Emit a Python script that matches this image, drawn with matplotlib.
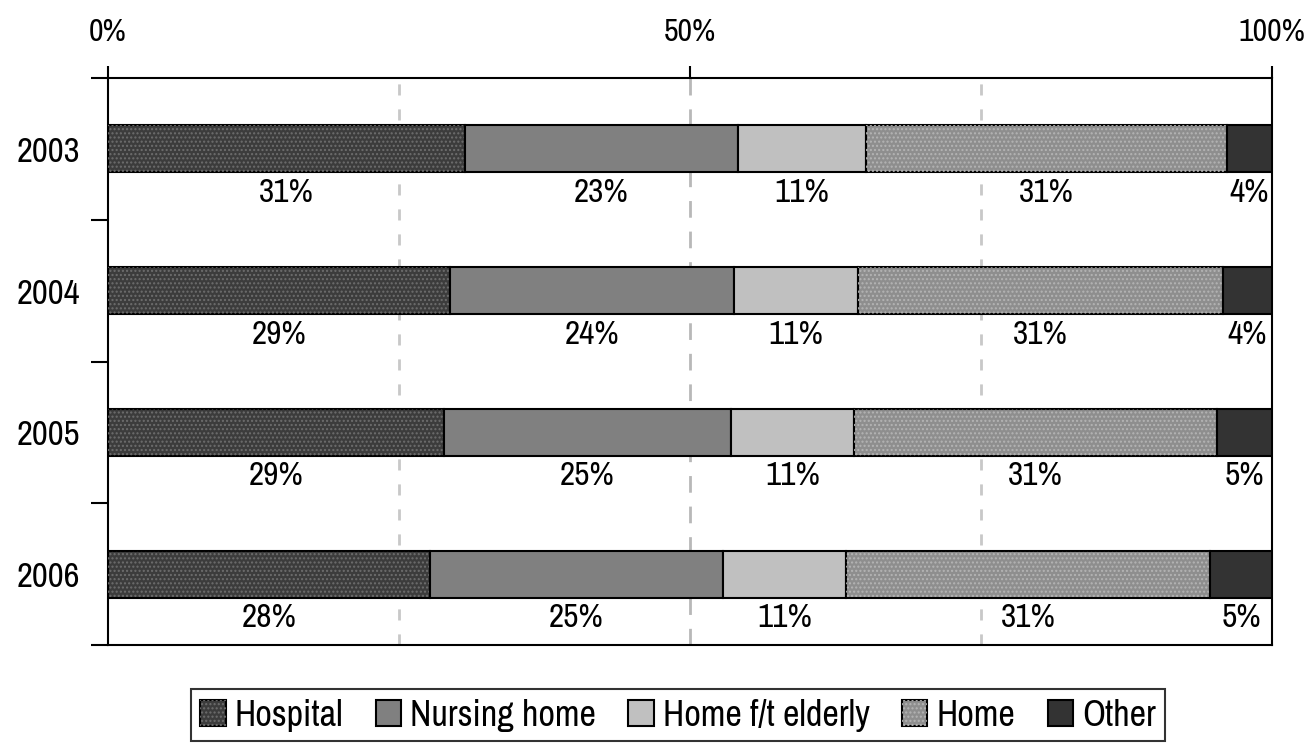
import matplotlib.pyplot as plt
from matplotlib.patches import Patch
import numpy as np

years = ['2003', '2004', '2005', '2006']
categories = ['Hospital', 'Nursing home', 'Home f/t elderly', 'Home', 'Other']
hospital = [30.7, 29.4, 28.9, 27.7]
nursing_home = [23.4, 24.4, 24.6, 25.1]
home_elderly = [11.0, 10.6, 10.6, 10.6]
home = [31.0, 31.4, 31.2, 31.3]
other = [3.9, 4.2, 4.7, 5.3]
series = [hospital, nursing_home, home_elderly, home, other]

fills = ['#3c3c3c', '#808080', '#c0c0c0', '#8e8e8e', '#333333']
dots = ['#6e6e6e', None, None, '#b4b4b4', None]

plt.rcParams['font.family'] = ['Archivo Narrow', 'Liberation Sans', 'DejaVu Sans']
plt.rcParams['hatch.linewidth'] = 1.0

fig = plt.figure(figsize=(13.1, 7.55), dpi=100)
ax = fig.add_axes([108/1310, 1 - 645/755, 1164/1310, 567/755])

y = np.arange(len(years))
h = 0.33
left = np.zeros(len(years))
for vals, fc, dc in zip(series, fills, dots):
    vals = np.array(vals) / 100
    ax.barh(y, vals, left=left, height=h, color=fc, edgecolor='black', linewidth=1.5, zorder=3)
    if dc:
        ax.barh(y, vals, left=left, height=h, fill=False, edgecolor=dc, hatch='....', linewidth=0, zorder=3)
    for yi, l, v in zip(y, left, vals):
        ax.text(l + v / 2, yi + 0.31, f'{round(v * 100):.0f}%', ha='center', va='center', fontsize=24, zorder=4)
    left += vals

# dashed gridlines behind the bars
ax.axvline(0.5, color='#b8b8b8', lw=2, ls=(0, (6, 5)), zorder=1)
for gx in [0.25, 0.75]:
    ax.axvline(gx, color='#c8c8c8', lw=2, ls=(0, (4, 5)), zorder=1)

ax.set_xlim(0, 1)
ax.set_ylim(3.5, -0.5)
ax.xaxis.tick_top()
ax.set_xticks([0, 0.5, 1])
ax.set_xticklabels(['0%', '50%', '100%'], fontsize=23)
ax.tick_params(axis='x', direction='out', length=9, width=1.5, pad=14)
ax.set_yticks(np.arange(-0.5, 4, 1))
ax.set_yticklabels([])
ax.set_yticks(y, minor=True)
ax.set_yticklabels(years, minor=True, fontsize=25)
ax.tick_params(axis='y', which='major', direction='out', length=12, width=1.5)
ax.tick_params(axis='y', which='minor', length=0, pad=20)
for s in ax.spines.values():
    s.set_linewidth(1.5)

handles = []
for fc, dc in zip(fills, dots):
    base = Patch(facecolor=fc, edgecolor='black', linewidth=1.5)
    if dc:
        handles.append((base, Patch(fill=False, edgecolor=dc, hatch='....', linewidth=0)))
    else:
        handles.append(base)
leg = fig.legend(handles, categories, loc='center', bbox_to_anchor=(678/1310, 1 - 715/755), ncol=5,
                 fontsize=26, frameon=True, fancybox=False, handlelength=0.7, handleheight=0.7,
                 handletextpad=0.25, columnspacing=0.9, borderpad=0.25)
leg.get_frame().set_edgecolor('black')
leg.get_frame().set_linewidth(1.5)

fig.savefig('out.png', dpi=100)
